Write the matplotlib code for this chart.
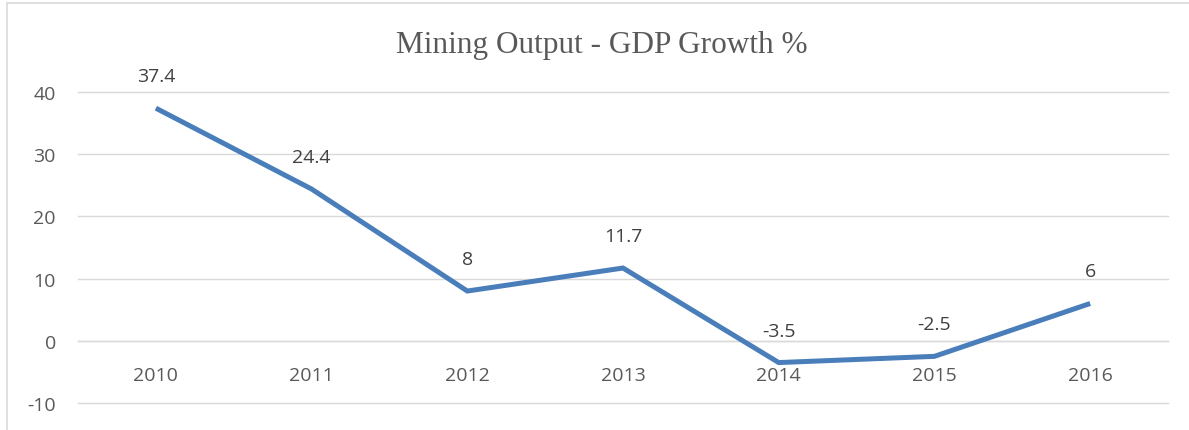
import matplotlib
matplotlib.use("Agg")
import matplotlib.pyplot as plt
from matplotlib.patches import Rectangle

# data
years = ["2010", "2011", "2012", "2013", "2014", "2015", "2016"]
growth = [37.4, 24.4, 8, 11.7, -3.5, -2.5, 6]
point_labels = ["37.4", "24.4", "8", "11.7", "-3.5", "-2.5", "6"]
y_ticks = [-10, 0, 10, 20, 30, 40]

W, H = 1189, 431
fig = plt.figure(figsize=(W / 100, H / 100), dpi=100)

# chart frame (cropped at right and bottom in the reference)
fig.patches.append(Rectangle((7 / W, -0.1), 1.2, 1 - 4 / H + 0.1,
                             transform=fig.transFigure, fill=False,
                             edgecolor="#d9d9d9", linewidth=1.2))

ax = fig.add_axes([78 / W, 1 - 404 / H, (1168 - 78) / W, (404 - 93) / H])
x = list(range(len(years)))

ax.plot(x, growth, color="#4a7ebb", linewidth=3.6, solid_joinstyle="miter",
        solid_capstyle="butt", zorder=3)

for xi, yi, lab in zip(x, growth, point_labels):
    ax.annotate(lab, (xi, yi), xytext=(0, 32), textcoords="offset pixels",
                ha="center", va="center", fontsize=14, color="#404040",
                family="Open Sans")

ax.set_xlim(-0.5, len(years) - 0.5)
ax.set_ylim(-10, 40)
ax.set_yticks(y_ticks)
ax.set_yticklabels([str(v) for v in y_ticks])
ax.yaxis.grid(True, color="#d9d9d9", linewidth=1.0)
for gl in ax.get_ygridlines():
    gl.set_clip_on(False)
ax.set_axisbelow(True)

ax.set_xticks(x)
ax.set_xticklabels(years)
ax.spines["bottom"].set_position(("data", 0))
ax.spines["bottom"].set_color("#d9d9d9")
ax.spines["bottom"].set_linewidth(1.0)
for s in ["left", "right", "top"]:
    ax.spines[s].set_visible(False)

ax.tick_params(axis="x", length=0, pad=18, labelsize=14, labelcolor="#595959")
ax.tick_params(axis="y", length=0, pad=16, labelsize=14, labelcolor="#595959")
for lab in ax.get_xticklabels() + ax.get_yticklabels():
    lab.set_family("Open Sans")

fig.text(602 / W, 1 - 45 / H, "Mining Output - GDP Growth %", ha="center",
         va="center", fontsize=22.5, color="#595959", family="Liberation Serif")

fig.savefig("out.png", dpi=100)
